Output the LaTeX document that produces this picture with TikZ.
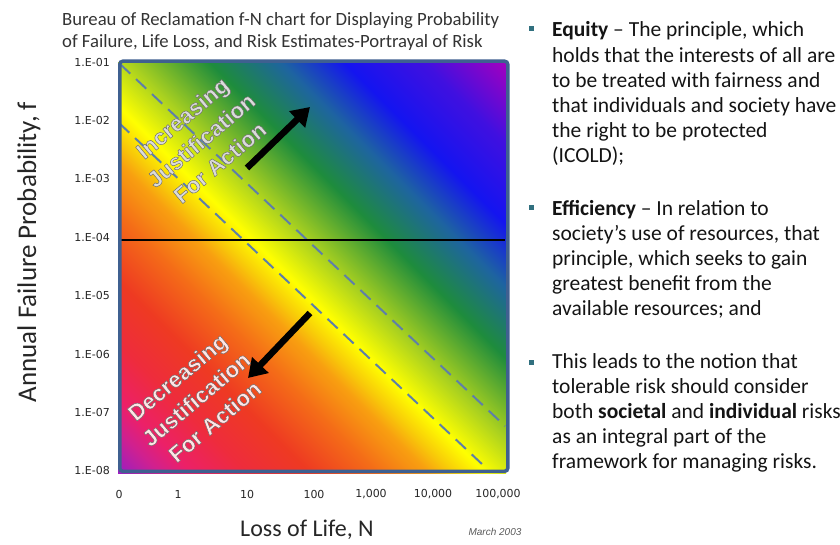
\documentclass[tikz,border=0pt]{standalone}
\usepackage{fontspec}
\setmainfont{Carlito}
\newfontfamily\tickfont{DejaVu Sans}
\newfontfamily\armfont[FakeBold=2]{Liberation Sans Bold}
\newfontfamily\datefont{Liberation Sans}
\usetikzlibrary{arrows.meta}
\definecolor{c0}{HTML}{9B1FC0}
\definecolor{c1}{HTML}{D0208F}
\definecolor{c2}{HTML}{EC2068}
\definecolor{c3}{HTML}{EE2C3C}
\definecolor{c4}{HTML}{EE3A22}
\definecolor{c5}{HTML}{F46A18}
\definecolor{c6}{HTML}{F8A010}
\definecolor{c7}{HTML}{F8CC08}
\definecolor{c8}{HTML}{FFFF00}
\definecolor{c9}{HTML}{A8D020}
\definecolor{c10}{HTML}{1E8C3C}
\definecolor{c11}{HTML}{1E64A0}
\definecolor{c12}{HTML}{1414F0}
\definecolor{c13}{HTML}{4010E0}
\definecolor{c14}{HTML}{A000C0}
\definecolor{framecol}{HTML}{3F6090}
\definecolor{dashcol}{HTML}{5E7FA8}
\definecolor{bulletcol}{HTML}{31707F}
\definecolor{textcol}{HTML}{141414}
\pgfdeclarehorizontalshading{fnrainbow}{100bp}{color(0bp)=(c0); color(14.64bp)=(c0); color(18.2bp)=(c1); color(21.0bp)=(c2); color(26.0bp)=(c3); color(31.6bp)=(c4); color(37.3bp)=(c5); color(42.22bp)=(c6); color(44.34bp)=(c7); color(47.17bp)=(c8); color(52.12bp)=(c9); color(59.19bp)=(c10); color(65.55bp)=(c11); color(71.21bp)=(c12); color(78.28bp)=(c13); color(85.35bp)=(c14); color(100bp)=(c14)}
\newcommand\grayedge{\special{pdf:literal direct 0.42 0.42 0.42 RG}}
\tikzset{
  tick/.style={font=\tickfont\fontsize{11}{13}\selectfont, text=black!85, inner sep=0pt},
  dashline/.style={draw=dashcol, line width=2pt, dash pattern=on 14pt off 8pt},
  bigarrow/.style={draw=black, line width=6.5pt, -{Triangle[width=22pt,length=18pt]}},
  diagtext/.style={font=\armfont\fontsize{22.5}{29}\selectfont, align=center, rotate=40, inner sep=0pt},
  rt/.style={font=\fontsize{21.5}{25}\selectfont, text=textcol, anchor=base west, inner sep=0pt},
  bulletbox/.style={fill=bulletcol, minimum size=5pt, inner sep=0pt},
}
\begin{document}
\begin{tikzpicture}[x=1pt,y=1pt]
\useasboundingbox (0,0) rectangle (840,544);
% title
\node[font=\fontsize{18.7}{22}\selectfont, text=black!80, align=left, anchor=north west, inner sep=0pt] (title) at (62,532)
  {Bureau of Reclamation f-N chart for Displaying Probability\\of Failure, Life Loss, and Risk Estimates-Portrayal of Risk};
% plot area
\shade[shading=fnrainbow, shading angle=45] (118,71) rectangle (506,481);
\coordinate (d1a) at (120,480);
\coordinate (d1b) at (505,118);
\coordinate (d2a) at (119,421);
\coordinate (d2b) at (483,79);
\draw[dashline] (d1a) -- (d1b);
\draw[dashline] (d2a) -- (d2b);
\coordinate (ha) at (119,304);
\coordinate (hb) at (505,304);
\draw[line width=2pt, black] (ha) -- (hb);
\node[draw=framecol, line width=3.5pt, rounded corners=3pt, minimum width=388pt, minimum height=410pt, inner sep=0pt, anchor=south west] (plot) at (118,71) {};
% y tick labels
\foreach \lab [count=\i] in {01,02,03,04,05,06,07,08}
  \node[tick, anchor=east] (yt\i) at (110,{482-58.4*(\i-1)}) {1.E-\lab};
% x tick labels
\foreach \lab/\xx [count=\i] in {0/119,1/178,10/247,100/314,{1,000}/371,{10,000}/433,{100,000}/498}
  \node[tick] (xt\i) at (\xx,50) {\lab};
% axis titles
\node[font=\fontsize{27}{30}\selectfont, text=black!85, rotate=90, inner sep=0pt] (ytitle) at (29,292) {Annual Failure Probability, f};
\node[font=\fontsize{24}{26}\selectfont, text=black!85, inner sep=0pt] (xtitle) at (307,14) {Loss of Life, N};
\node[font=\datefont\itshape\fontsize{10}{12}\selectfont, text=black!65, inner sep=0pt] (date) at (495,12) {March 2003};
% diagonal texts
\node[diagtext, text=white!86!black] (inc) at (201,404) {\grayedge Increasing\\\grayedge Justification\\\grayedge For Action};
\node[diagtext, text=white!90!red] (dec) at (196,145) {\grayedge Decreasing\\\grayedge Justification\\\grayedge For Action};
% arrows
\coordinate (ua) at (247,376);
\coordinate (ub) at (310,437);
\coordinate (da) at (310,231);
\coordinate (db) at (248,166);
\draw[bigarrow] (ua) -- (ub);
\draw[bigarrow] (da) -- (db);
% right text
\node[bulletbox] (b1) at (531,515) {};
\node[bulletbox] (b2) at (531,336) {};
\node[bulletbox] (b3) at (531,182) {};
\foreach \t [count=\i] in {{\textbf{Equity} – The principle, which},{holds that the interests of all are},{to be treated with fairness and},{that individuals and society have},{the right to be protected},{(ICOLD);}}
  \node[rt] (ea\i) at (552,{507-25.2*(\i-1)}) {\t};
\foreach \t [count=\i] in {{\textbf{Efficiency} – In relation to},{society’s use of resources, that},{principle, which seeks to gain},{greatest benefit from the},{available resources; and}}
  \node[rt] (eb\i) at (552,{328-24.8*(\i-1)}) {\t};
\foreach \t [count=\i] in {{This leads to the notion that},{tolerable risk should consider},{both \textbf{societal} and \textbf{individual} risks},{as an integral part of the},{framework for managing risks.}}
  \node[rt] (ec\i) at (552,{176-25*(\i-1)}) {\t};
\end{tikzpicture}
\end{document}
